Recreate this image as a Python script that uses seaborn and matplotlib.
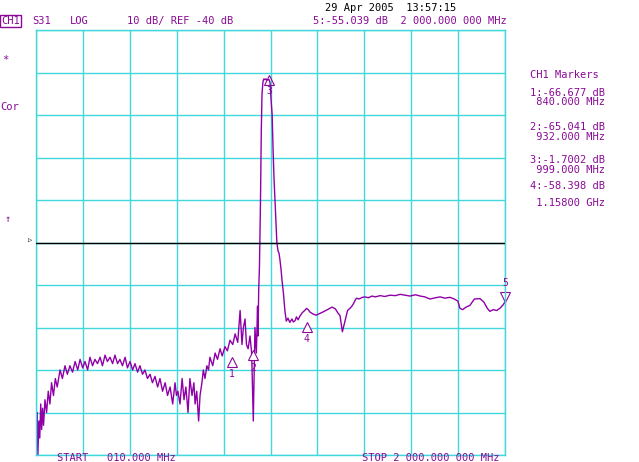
import numpy as np
import pandas as pd
import matplotlib
matplotlib.use('Agg')
import matplotlib.pyplot as plt
import seaborn as sns

# trace: (MHz, dB) pairs
low_band = [(10, -72), (12, -88), (15, -80), (18, -90), (22, -82), (26, -86), (30, -78),
            (34, -84), (38, -79), (42, -83), (48, -77), (55, -80), (62, -75), (69, -78),
            (76, -73), (84, -76), (92, -72), (100, -74), (112, -70), (122, -72), (133, -69),
            (143, -71), (154, -69), (165, -70.5), (176, -68), (187, -70), (197, -67.5),
            (208, -69.5), (218, -68), (229, -70), (239, -67), (250, -69), (260, -67.5),
            (271, -68.5), (282, -67), (292, -69), (303, -66.5), (313, -68), (324, -67),
            (335, -68.5), (345, -66.5), (356, -68.5), (366, -67.5), (377, -69), (388, -67),
            (398, -69.5), (409, -68), (420, -70), (430, -68.5), (441, -70.5), (451, -69),
            (462, -71), (472, -70), (483, -72), (494, -71), (504, -73), (515, -71.5),
            (526, -74), (536, -72), (547, -75), (558, -73), (568, -76), (579, -74),
            (590, -78), (600, -73), (606, -76), (612, -75), (621, -78), (630, -72),
            (638, -77), (646, -74), (655, -80), (663, -72), (672, -76), (680, -73),
            (685, -78), (692, -75), (700, -82), (706, -76), (714, -73), (720, -70),
            (727, -72), (735, -69), (742, -70), (748, -67), (760, -69), (770, -66),
            (780, -67.5), (791, -65), (800, -66.7), (812, -64.5), (822, -65.5),
            (833, -63), (845, -64), (855, -61.5), (866, -63.5), (876, -56), (884, -64),
            (890, -60), (897, -58), (903, -64), (910, -65), (918, -62), (925, -66),
            (932, -82), (939, -60), (945, -66), (950, -55)]
peak_band = [(952, -62), (955, -51), (958, -46), (960, -39.5), (963, -28), (966, -13.5),
             (969, -5), (973, -2.2), (977, -1.5), (982, -1.7), (986, -1.5), (990, -1.8),
             (994, -1.7), (999, -1.7), (1003, -2.4), (1007, -6), (1012, -10),
             (1016, -18.2), (1020, -25), (1024, -30), (1028, -35), (1032, -40),
             (1037, -42), (1041, -42.5), (1045, -44), (1050, -46.5), (1054, -49),
             (1060, -52), (1066, -56), (1072, -58.5)]
high_band = [(1079, -57.8), (1087, -58.8), (1096, -58), (1102, -58.7), (1109, -58.4),
             (1115, -57.5), (1122, -58.2), (1130, -57.3), (1140, -56.5), (1150, -56),
             (1158, -55.5), (1165, -55.8), (1173, -56.4), (1185, -56.8), (1198, -57.1),
             (1210, -56.8), (1222, -56.5), (1236, -56.1), (1250, -55.7), (1266, -55.2),
             (1280, -55.6), (1290, -56.5), (1300, -57.2), (1310, -61), (1321, -58.5),
             (1332, -56), (1342, -55.5), (1350, -55), (1358, -54.3), (1364, -53.6),
             (1370, -53.1), (1380, -53.3), (1395, -52.9), (1406, -52.8), (1420, -53),
             (1436, -52.6), (1450, -52.8), (1470, -52.5), (1490, -52.7), (1512, -52.4),
             (1535, -52.5), (1555, -52.2), (1575, -52.4), (1597, -52.6), (1620, -52.3),
             (1640, -52.6), (1660, -52.8), (1682, -53.3), (1705, -53), (1725, -52.8),
             (1745, -53.1), (1766, -52.9), (1785, -53.3), (1800, -53.8), (1809, -55.5),
             (1820, -55.8), (1835, -55.2), (1851, -54.8), (1870, -53.3), (1894, -53.2),
             (1910, -54), (1925, -55.5), (1936, -56.2), (1950, -55.8), (1965, -56),
             (1980, -55.4), (1990, -54.8), (2000, -54)]

marker_f = [840, 932, 999, 1158, 2000]
marker_db = [-66.677, -65.041, -1.7002, -58.398, -55.039]
marker_txt = ['1:-66.677 dB', ' 840.000 MHz', '2:-65.041 dB', ' 932.000 MHz',
              '3:-1.7002 dB', ' 999.000 MHz', '4:-58.398 dB', ' 1.15800 GHz']

purple = '#8a0a96'
trace_col = '#9000a8'
cyan = '#40d8dc'

sns.set_style('white')
plt.rcParams['font.family'] = ['DejaVu Sans Mono']

fig = plt.figure(figsize=(6.39, 4.62), dpi=100)
W, H = 639, 462
ax = fig.add_axes([36 / W, (H - 455) / H, (505 - 36) / W, (455 - 30) / H])

df = pd.DataFrame(low_band + peak_band + high_band, columns=['f', 'db'])
sns.lineplot(data=df, x='f', y='db', ax=ax, color=trace_col, lw=1, sort=False)

ax.set_xlim(10, 2000)
ax.set_ylim(-90, 10)
ax.set_xticks(np.linspace(10, 2000, 11))
ax.set_yticks(np.arange(-90, 11, 10))
ax.grid(True, color=cyan, lw=1)
ax.tick_params(left=False, bottom=False, labelleft=False, labelbottom=False)
for s in ax.spines.values():
    s.set_color(cyan)
    s.set_linewidth(1)
ax.set_xlabel('')
ax.set_ylabel('')
ax.axhline(-40, color='black', lw=1, zorder=3)

# markers
for i, (mf, mdb) in enumerate(zip(marker_f, marker_db)):
    if i == 4:
        ax.plot(mf, mdb + 2.2, marker='v', ms=7, mfc='white', mec=purple, mew=0.8, clip_on=False)
        ax.text(mf, mdb + 4.3, '5', color=purple, fontsize=7, ha='center', va='bottom')
    elif i == 2:
        ax.plot(mf, mdb, marker='^', ms=7, mfc='none', mec=purple, mew=0.8)
        ax.text(mf, mdb - 1.5, '3', color=purple, fontsize=7, ha='center', va='top')
    else:
        ax.plot(mf, mdb - 1.5, marker='^', ms=7, mfc='white', mec=purple, mew=0.8)
        ax.text(mf, mdb - 3.2, str(i + 1), color=purple, fontsize=7, ha='center', va='top')

fs = 7.5
def t(x, y, s, **kw):
    fig.text(x / W, 1 - y / H, s, color=kw.pop('color', purple), fontsize=kw.pop('fontsize', fs),
             va='center', **kw)

t(325, 8, '29 Apr 2005  13:57:15', color='black')
t(1, 21, 'CH1', bbox=dict(boxstyle='square,pad=0.1', fc='white', ec=purple, lw=1))
t(32, 21, 'S31')
t(70, 21, 'LOG')
t(127, 21, '10 dB/ REF -40 dB')
t(313, 21, '5:-55.039 dB  2 000.000 000 MHz')
t(2, 60, '*')
t(0, 107, 'Cor')
t(5, 219, '\u2191')
t(28, 241, '\u25b7', color='black', fontsize=5)
t(57, 458, 'START   010.000 MHz')
t(362, 458, 'STOP 2 000.000 000 MHz')

t(530, 75, 'CH1 Markers')
ys = [93, 102, 127, 137, 160, 170, 186, 203]
for y, s in zip(ys, marker_txt):
    t(530, y, s)

fig.savefig('out.png', dpi=100)
